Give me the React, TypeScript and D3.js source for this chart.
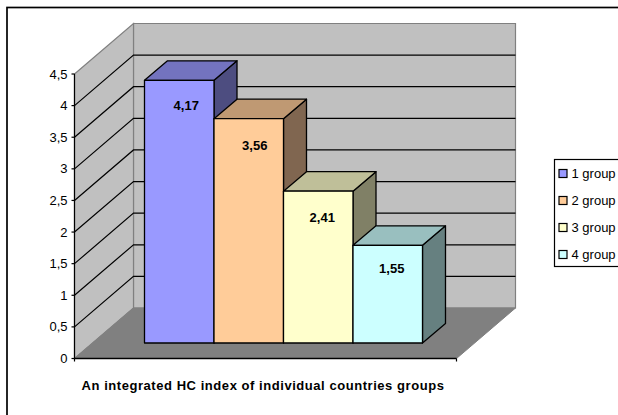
import React from "react";
import * as d3 from "d3";

const groups = ["1 group", "2 group", "3 group", "4 group"];
const values = [4.17, 3.56, 2.41, 1.55];
const valueLabels = ["4,17", "3,56", "2,41", "1,55"];
const labelShiftY = [29.5, 31, 31, 27.5];
const labelShiftX = [7, 6, 4, 4];
const ticks = [0, 0.5, 1, 1.5, 2, 2.5, 3, 3.5, 4, 4.5];
const tickLabels = ["0", "0,5", "1", "1,5", "2", "2,5", "3", "3,5", "4", "4,5"];
const fronts = ["#9999ff", "#ffcc99", "#ffffcc", "#ccffff"];
const tops = ["#7373bf", "#bf9973", "#bfbf99", "#99bfbf"];
const sides = ["#4d4d80", "#806650", "#808066", "#668080"];
const title = "An integrated HC index of individual countries groups";

const FONT = "'Liberation Sans', Arial, sans-serif";

export default function App() {
  const y = d3.scaleLinear().domain([0, 4.5]).range([358.5, 74]);
  const x0 = 74.5, x1 = 456.5, dx = 59, dy = -50.5;
  const barBase = 343;
  const barScale = d3.scaleLinear().domain([0, 1]).range([barBase, barBase - 63]);
  const band = d3.scaleBand<string>().domain(groups).range([144.5, 422.5]).padding(0);
  const bw = band.bandwidth();
  const bdx = 23, bdy = -19.5;
  const poly = (p: [number, number][]) => d3.line()(p) + "Z";

  return (
    <svg width={618} height={415} style={{ position: "absolute", left: 0, top: 0, background: "#fff" }} fontFamily={FONT}>
      <rect x={7} y={7.5} width={700} height={500} fill="#fff" stroke="#000" strokeWidth={1.7} />
      {/* back wall */}
      <path d={poly([[x0 + dx, y(4.5) + dy], [x1 + dx, y(4.5) + dy], [x1 + dx, y(0) + dy], [x0 + dx, y(0) + dy]])} fill="#c0c0c0" stroke="#808080" strokeWidth={1.2} />
      {/* side wall */}
      <path d={poly([[x0, y(4.5)], [x0 + dx, y(4.5) + dy], [x0 + dx, y(0) + dy], [x0, y(0)]])} fill="#c0c0c0" stroke="#808080" strokeWidth={1.2} />
      {/* floor */}
      <path d={poly([[x0, y(0)], [x0 + dx, y(0) + dy], [x1 + dx, y(0) + dy], [x1, y(0)]])} fill="#808080" stroke="#808080" strokeWidth={1} />
      {/* gridlines */}
      {ticks.filter((t) => t > 0 && t < 4.5).map((t) => (
        <path key={t} d={d3.line()([[x0, y(t)], [x0 + dx, y(t) + dy], [x1 + dx, y(t) + dy]]) as string} fill="none" stroke="#000" strokeWidth={1.2} />
      ))}
      {/* axes */}
      <line x1={x0} x2={x0} y1={y(4.5)} y2={y(0)} stroke="#000" strokeWidth={1.2} />
      <line x1={x0} x2={x1} y1={y(0)} y2={y(0)} stroke="#000" strokeWidth={1.3} />
      <line x1={x0} x2={x0} y1={y(0)} y2={y(0) + 3} stroke="#000" strokeWidth={1.2} />
      <line x1={x1} x2={x1} y1={y(0)} y2={y(0) + 3} stroke="#000" strokeWidth={1.2} />
      {ticks.map((t, i) => (
        <g key={t}>
          <line x1={x0 - 3} x2={x0} y1={y(t)} y2={y(t)} stroke="#000" strokeWidth={1.2} />
          <text x={67.5} y={y(t) + 4.5} textAnchor="end" fontSize={13} fill="#000">{tickLabels[i]}</text>
        </g>
      ))}
      {/* bars */}
      {groups.map((g, i) => {
        const l = band(g) as number;
        const r = l + bw;
        const t = barScale(values[i]);
        return (
          <g key={g} stroke="#000" strokeWidth={1.3} strokeLinejoin="round">
            <path d={poly([[r, t], [r + bdx, t + bdy], [r + bdx, barBase + bdy], [r, barBase]])} fill={sides[i]} />
            <path d={poly([[l, t], [l + bdx, t + bdy], [r + bdx, t + bdy], [r, t]])} fill={tops[i]} />
            <rect x={l} y={t} width={bw} height={barBase - t} fill={fronts[i]} />
          </g>
        );
      })}
      {groups.map((g, i) => (
        <text key={g} x={(band(g) as number) + bw / 2 + labelShiftX[i]} y={barScale(values[i]) + labelShiftY[i]} textAnchor="middle" fontSize={13} fontWeight="bold" fill="#000">{valueLabels[i]}</text>
      ))}
      {/* category title */}
      <text x={263} y={389.5} textAnchor="middle" fontSize={13} letterSpacing={0.55} fontWeight="bold" fill="#000">{title}</text>
      {/* legend */}
      <rect x={554.5} y={159.5} width={100} height={107} fill="#fff" stroke="#000" strokeWidth={1.2} />
      {groups.map((g, i) => {
        const cy = d3.scaleLinear().domain([0, 3]).range([173.5, 254.5])(i);
        return (
          <g key={g}>
            <rect x={559} y={cy - 4} width={8} height={8} fill={fronts[i]} stroke="#000" strokeWidth={1.2} />
            <text x={571.5} y={cy + 4.5} fontSize={13} fill="#000">{g}</text>
          </g>
        );
      })}
    </svg>
  );
}
